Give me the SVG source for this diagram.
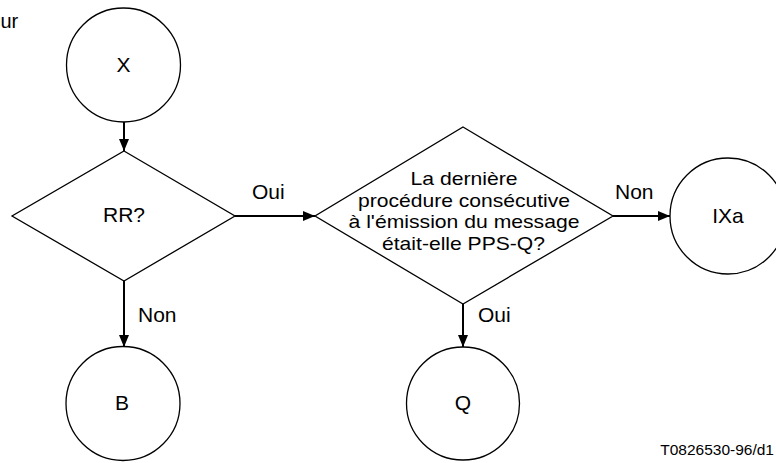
<svg xmlns="http://www.w3.org/2000/svg" width="776" height="463" viewBox="0 0 776 463">
<defs>
<style>
.shape{fill:#fff;stroke:#000;stroke-width:1.3}
.conn{fill:none;stroke:#000;stroke-width:2}
.t{font-family:"Liberation Sans",Arial,sans-serif;font-size:21px;fill:#000}
.c{text-anchor:middle}
.d{font-size:19px}
</style>
<marker id="ah" markerWidth="12" markerHeight="10" refX="12" refY="5" orient="auto" markerUnits="userSpaceOnUse">
<path d="M0,0 L12,5 L0,10 Z" fill="#000"/>
</marker>
</defs>
<text class="t" x="0.5" y="28" style="font-size:20px">ur</text>
<g id="connectors">
<line class="conn" x1="124" y1="122" x2="124" y2="151" marker-end="url(#ah)"/>
<line class="conn" x1="235" y1="216" x2="315" y2="216" marker-end="url(#ah)"/>
<line class="conn" x1="613" y1="216" x2="670" y2="216" marker-end="url(#ah)"/>
<line class="conn" x1="124" y1="281" x2="124" y2="347" marker-end="url(#ah)"/>
<line class="conn" x1="463" y1="304" x2="463" y2="347" marker-end="url(#ah)"/>
<text class="t" x="252" y="199">Oui</text>
<text class="t" x="615" y="199">Non</text>
<text class="t" x="138" y="322">Non</text>
<text class="t" x="478" y="322">Oui</text>
</g>
<g id="node-X">
<circle class="shape" cx="123.5" cy="65" r="57"/>
<text class="t c" x="123.5" y="72">X</text>
</g>
<g id="node-RR">
<polygon class="shape" points="124,151 235,216 124,281 12,216"/>
<text class="t c" x="124" y="222">RR?</text>
</g>
<g id="node-D2">
<polygon class="shape" points="463,127 613,216 463,304 315,216"/>
<text class="t c d" x="464" y="185" textLength="107" lengthAdjust="spacingAndGlyphs">La dernière</text>
<text class="t c d" x="464" y="206.5" textLength="212" lengthAdjust="spacingAndGlyphs">procédure consécutive</text>
<text class="t c d" x="464" y="228" textLength="231" lengthAdjust="spacingAndGlyphs">à l'émission du message</text>
<text class="t c d" x="463.5" y="249.5" textLength="163" lengthAdjust="spacingAndGlyphs">était-elle PPS-Q?</text>
</g>
<g id="node-IXa">
<circle class="shape" cx="728" cy="216" r="58"/>
<text class="t c" x="728" y="223">IXa</text>
</g>
<g id="node-B">
<circle class="shape" cx="123" cy="403.5" r="57"/>
<text class="t c" x="122" y="410">B</text>
</g>
<g id="node-Q">
<circle class="shape" cx="463" cy="403.5" r="56.5"/>
<text class="t c" x="463" y="410">Q</text>
</g>
<text x="774" y="455" text-anchor="end" style="font-family:'Liberation Sans',Arial,sans-serif;font-size:15.5px">T0826530-96/d1</text>
</svg>
